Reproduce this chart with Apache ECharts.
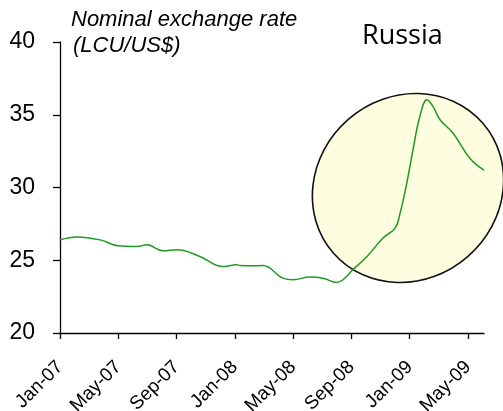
<!DOCTYPE html>
<html>
<head>
<meta charset="utf-8">
<script src="https://cdn.jsdelivr.net/npm/echarts@6/dist/echarts.min.js"></script>
<style>html,body{margin:0;padding:0;background:#fff}#c{width:503px;height:411px}</style>
</head>
<body>
<div id="c"></div>
<script>
// month index (0 = Jan-07) and exchange rate values
const monthIndex = [0, 1.17, 2.75, 3.98, 5.28, 5.97, 7.07, 8.03, 9.61, 11.12, 12.15, 12.35, 13.25, 13.93, 15.3, 16.0, 17.16, 18.05, 19.01, 19.42, 20.1, 21.07, 22.17, 23.0, 23.34, 23.8, 24.23, 24.7, 25.19, 25.6, 26.08, 26.97, 28.14, 29.1];
const rate = [26.4, 26.6, 26.4, 26.0, 25.95, 26.06, 25.65, 25.72, 25.26, 24.57, 24.69, 24.64, 24.62, 24.64, 23.77, 23.66, 23.85, 23.77, 23.47, 23.66, 24.35, 25.26, 26.53, 27.21, 28.24, 30.3, 32.6, 34.9, 36.03, 35.57, 34.66, 33.74, 32.0, 31.2];
const tickMonths = [0, 4, 8, 12, 16, 20, 24, 28];
const tickLabels = ['Jan-07', 'May-07', 'Sep-07', 'Jan-08', 'May-08', 'Sep-08', 'Jan-09', 'May-09'];
const yTicks = [20, 25, 30, 35, 40];

const chart = echarts.init(document.getElementById('c'), null, {renderer: 'canvas'});
chart.setOption({
  animation: false,
  grid: {left: 60, right: 19, top: 42, bottom: 78, containLabel: false, outerBoundsMode: 'none'},
  xAxis: {
    type: 'value', min: 0, max: 29.1,
    splitLine: {show: false},
    axisLine: {show: true, lineStyle: {color: '#000', width: 1.3}},
    axisTick: {show: true, length: 6, lineStyle: {color: '#000', width: 1.3}, customValues: tickMonths},
    axisLabel: {
      customValues: tickMonths, rotate: 45, color: '#000', fontSize: 19,
      fontFamily: 'Liberation Sans, Arial, sans-serif', margin: 31,
      formatter: v => { const i = tickMonths.indexOf(Math.round(v)); return i >= 0 ? tickLabels[i] : ''; }
    }
  },
  yAxis: {
    type: 'value', min: 20, max: 40, interval: 5,
    splitLine: {show: false},
    axisLine: {show: true, onZero: false, lineStyle: {color: '#000', width: 1.3}},
    axisTick: {show: true, inside: false, length: 7, lineStyle: {color: '#000', width: 1.3}},
    axisLabel: {color: '#000', fontSize: 23, fontFamily: 'Liberation Sans, Arial, sans-serif', margin: 25,
      customValues: yTicks}
  },
  graphic: [
    {type: 'ellipse', z: 0, zlevel: 0, x: 408, y: 188,
     shape: {cx: 0, cy: 0, rx: 99, ry: 91},
     rotation: 0.716,
     style: {fill: '#FEFDDF', stroke: '#111', lineWidth: 1.6}},
    {type: 'text', left: 362, top: 23, z: 10,
     style: {text: 'Russia', font: '27px "Open Sans", sans-serif', fill: '#000'}},
    {type: 'text', left: 71, top: 9, z: 10,
     style: {text: 'Nominal exchange rate', font: 'italic 22px "Liberation Sans", Arial, sans-serif', fill: '#000'}},
    {type: 'text', left: 73, top: 35, z: 10,
     style: {text: '(LCU/US$)', font: 'italic 22px "Liberation Sans", Arial, sans-serif', fill: '#000'}}
  ],
  series: [{
    type: 'line', z: 5, smooth: 0.4, showSymbol: false, symbol: 'none',
    data: monthIndex.map((m, i) => [m, rate[i]]),
    lineStyle: {color: '#1E9A1E', width: 1.5}
  }]
});
</script>
</body>
</html>
